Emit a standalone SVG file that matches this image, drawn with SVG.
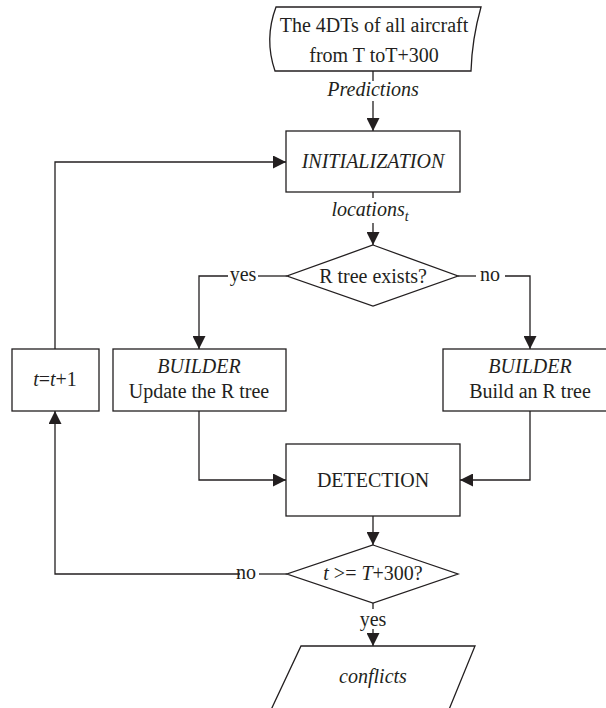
<svg xmlns="http://www.w3.org/2000/svg" width="606" height="708" viewBox="0 0 606 708" font-family="'Liberation Serif', 'Times New Roman', 'DejaVu Serif', serif">
  <style>
    .shape { fill: #ffffff; stroke: #231f20; stroke-width: 1.3; }
    .wire { fill: none; stroke: #231f20; stroke-width: 1.3; }
    text { font-family: 'Liberation Serif', 'Times New Roman', 'DejaVu Serif', serif; font-size: 20px; fill: #231f20; text-anchor: middle; }
    .it { font-style: italic; }
  </style>
  <defs>
    <marker id="arrow" markerUnits="userSpaceOnUse" markerWidth="13" markerHeight="13" refX="13" refY="6.5" orient="auto">
      <path d="M0,0 L13,6.5 L0,13 Z" fill="#231f20"/>
    </marker>
  </defs>

  <rect width="606" height="708" fill="#ffffff"/>

  <!-- connectors -->
  <g id="connectors">
    <!-- stored data to initialization -->
    <line class="wire" x1="373" y1="71" x2="373" y2="81"/>
    <line class="wire" x1="373" y1="101" x2="373" y2="131" marker-end="url(#arrow)"/>
    <!-- initialization to first decision -->
    <line class="wire" x1="373" y1="192" x2="373" y2="198"/>
    <line class="wire" x1="373" y1="223" x2="373" y2="245" marker-end="url(#arrow)"/>
    <!-- yes branch -->
    <polyline class="wire" points="287,276 258,276"/>
    <polyline class="wire" points="228,276 199,276 199,349" marker-end="url(#arrow)"/>
    <!-- no branch -->
    <polyline class="wire" points="458,276 476,276"/>
    <polyline class="wire" points="505,276 530,276 530,349" marker-end="url(#arrow)"/>
    <!-- builders to detection -->
    <polyline class="wire" points="199,411 199,480 286,480" marker-end="url(#arrow)"/>
    <polyline class="wire" points="530,411 530,480 460,480" marker-end="url(#arrow)"/>
    <!-- detection to second decision -->
    <line class="wire" x1="373" y1="516" x2="373" y2="545" marker-end="url(#arrow)"/>
    <!-- no: loop back through t=t+1 -->
    <line class="wire" x1="287" y1="574" x2="259" y2="574"/>
    <polyline class="wire" points="240,574 55,574 55,411" marker-end="url(#arrow)"/>
    <polyline class="wire" points="55,349 55,162 286,162" marker-end="url(#arrow)"/>
    <!-- yes: output -->
    <line class="wire" x1="373" y1="603" x2="373" y2="609"/>
    <line class="wire" x1="373" y1="629" x2="373" y2="646" marker-end="url(#arrow)"/>
  </g>

  <!-- connector labels -->
  <g id="labels">
    <text class="it" x="373" y="96">Predictions</text>
    <text class="it" x="370" y="216">locations<tspan font-size="14" dy="5">t</tspan></text>
    <text x="243" y="281">yes</text>
    <text x="490" y="281">no</text>
    <text x="246" y="579">no</text>
    <text x="373" y="626">yes</text>
  </g>

  <g id="input">
    <path class="shape" d="M276,7 L481,7 Q472,39 471,71 L275,71 Q264,39 276,7 Z"/>
    <text x="374" y="32">The 4DTs of all aircraft</text>
    <text x="374" y="62">from T toT+300</text>
  </g>

  <g id="initialization">
    <rect class="shape" x="286" y="131" width="174" height="61"/>
    <text class="it" x="373" y="168">INITIALIZATION</text>
  </g>

  <g id="tree-exists">
    <polygon class="shape" points="373,245 458,276 373,306 287,276"/>
    <text x="373" y="283">R tree exists?</text>
  </g>

  <g id="increment">
    <rect class="shape" x="12" y="349" width="87" height="62"/>
    <text x="55" y="386"><tspan class="it">t</tspan>=<tspan class="it">t</tspan>+1</text>
  </g>

  <g id="builder-update">
    <rect class="shape" x="113" y="349" width="173" height="62"/>
    <text class="it" x="199" y="373">BUILDER</text>
    <text x="199" y="398">Update the R tree</text>
  </g>

  <g id="builder-build">
    <rect class="shape" x="443" y="349" width="174" height="62"/>
    <text class="it" x="530" y="373">BUILDER</text>
    <text x="530" y="398">Build an R tree</text>
  </g>

  <g id="detection">
    <rect class="shape" x="286" y="444" width="174" height="72"/>
    <text x="373" y="487">DETECTION</text>
  </g>

  <g id="time-check">
    <polygon class="shape" points="373,545 458,574 373,603 287,574"/>
    <text x="373" y="580"><tspan class="it">t</tspan> &gt;= <tspan class="it">T</tspan>+300?</text>
  </g>

  <g id="conflicts">
    <polygon class="shape" points="301,646 475,646 448,712 270,712"/>
    <text class="it" x="373" y="683">conflicts</text>
  </g>
</svg>
